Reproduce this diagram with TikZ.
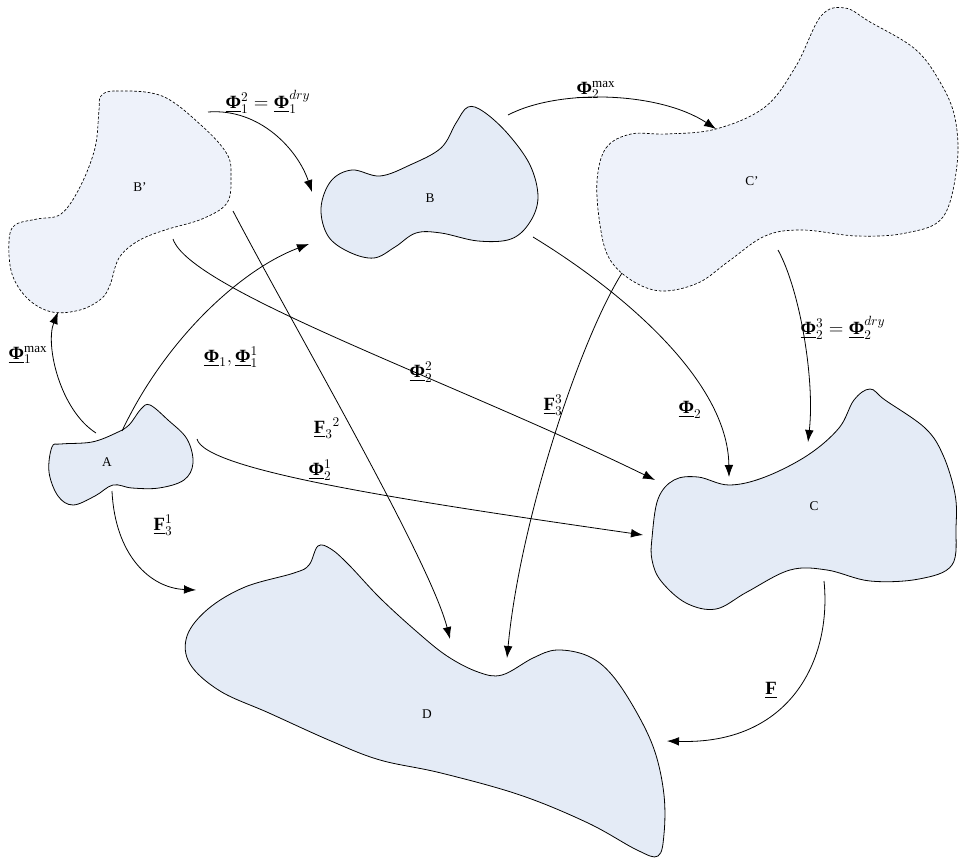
\documentclass[tikz,border=0pt]{standalone}
\usepackage{amsmath}
\usepackage{fontspec}
\setmainfont{Liberation Serif}
\usetikzlibrary{arrows.meta}

\definecolor{regionfill}{RGB}{228,235,246}
\definecolor{ghostfill}{RGB}{238,242,250}
\newcommand\bPhi{\underline{\text{\bfseries Φ}}}
\newcommand\bF{\underline{\text{\bfseries F}}}

\begin{document}
\begin{tikzpicture}[x=0.75pt,y=-0.75pt,
  region/.style={draw=black,line width=0.6pt,fill=regionfill},
  ghost/.style={draw=black,line width=0.5pt,fill=ghostfill,dash pattern=on 2pt off 1.4pt},
  regionname/.style={font=\fontsize{10}{12}\selectfont},
  flow/.style={draw=black,line width=0.6pt,-{Latex[length=9pt,width=6.5pt]}},
  lab/.style={font=\fontsize{14}{16}\selectfont,inner sep=1pt}]
\useasboundingbox (0,0) rectangle (959,859);

% --- regions -----------------------------------------------------------
% B' (dashed)
\draw[ghost] plot[smooth cycle,tension=0.6] coordinates {
 (101,96) (116,91) (162,96) (202,126) (227,154) (231,176) (227,203)
 (202,219) (165,230) (138,241) (119,258) (110,285) (101,299) (80,310)
 (52,312) (28,299) (12,274) (9,241) (15,225) (37,219) (61,214) (80,187)
 (95,148) (99,110)};
% C' (dashed)
\draw[ghost] plot[smooth cycle,tension=0.6] coordinates {
 (597,181) (606,148) (631,134) (667,134) (716,129) (765,107) (796,66)
 (821,16) (845,8) (870,22) (915,49) (940,82) (955,118) (957,165)
 (943,217) (906,233) (857,236) (802,230) (765,236) (729,261) (698,283)
 (661,291) (631,280) (609,258) (600,225)};
% A
\draw[region] plot[smooth cycle,tension=0.6] coordinates {
 (52,447) (49,472) (58,496) (73,505) (95,496) (113,485) (132,488)
 (159,488) (184,480) (193,463) (187,439) (168,420) (150,405) (141,409)
 (129,425) (116,433) (92,442) (61,444)};
% B
\draw[region] plot[smooth cycle,tension=0.6] coordinates {
 (321,208) (331,181) (352,170) (380,176) (410,165) (441,148) (456,123)
 (468,107) (484,112) (508,134) (530,165) (538,197) (530,222) (511,239)
 (478,241) (441,233) (416,233) (395,247) (374,258) (349,252) (328,236)};
% C
\draw[region] plot[smooth cycle,tension=0.6] coordinates {
 (652,538) (658,499) (674,480) (698,477) (729,485) (765,477) (808,455)
 (839,428) (854,400) (870,389) (885,400) (925,428) (943,455) (955,494)
 (956,527) (952,565) (919,579) (870,581) (827,570) (790,570) (747,592)
 (716,609) (686,603) (661,581) (652,560)};
% D
\draw[region] plot[smooth cycle,tension=0.6] coordinates {
 (318,546) (309,565) (294,573) (245,587) (208,609) (187,636) (190,664)
 (220,691) (269,713) (331,741) (380,760) (441,773) (520,795) (588,823)
 (637,850) (658,856) (664,834) (664,795) (655,752) (637,713) (612,675)
 (588,656) (557,650) (533,658) (502,675) (478,672) (447,656) (416,631)
 (380,598) (349,565) (331,549)};

% region names
\node[regionname] (nA)  at (107,462) {A};
\node[regionname] (nB)  at (430,198) {B};
\node[regionname] (nBp) at (140,187) {B’};
\node[regionname] (nC)  at (814,506) {C};
\node[regionname] (nCp) at (752,181) {C’};
\node[regionname] (nD)  at (427,714) {D};

% --- connector end points ---------------------------------------------
\coordinate (aTopL)  at (96,433);
\coordinate (aTop)   at (122,431);
\coordinate (aRight) at (197,439);
\coordinate (aBot)   at (112,491);
\coordinate (bpBot)  at (58,312);
\coordinate (bpR)    at (233,211);
\coordinate (bpLow)  at (173,239);
\coordinate (bpTop)  at (208,112);
\coordinate (bInL)   at (312,192);
\coordinate (bInLow) at (309,244);
\coordinate (bTopR)  at (508,115);
\coordinate (bRight) at (533,237);
\coordinate (cpIn)   at (716,129);
\coordinate (cpBotL) at (622,273);
\coordinate (cpBot)  at (778,250);
\coordinate (cInL)   at (655,480);
\coordinate (cInLow) at (643,535);
\coordinate (cInTop) at (729,477);
\coordinate (cInTR)  at (808,442);
\coordinate (cBot)   at (824,581);
\coordinate (dInL)   at (196,590);
\coordinate (dInA)   at (450,639);
\coordinate (dInB)   at (507,658);
\coordinate (dInR)   at (667,741);

% --- connectors ----------------------------------------------------------
\draw[flow] (aTopL)  .. controls (60,410)  and (45,345)  .. (bpBot);
\draw[flow] (aTop)   .. controls (165,340) and (240,270) .. (bInLow);
\draw[flow] (bpTop)  .. controls (260,108) and (298,150) .. (bInL);
\draw[flow] (bpR)    .. controls (290,320) and (430,560) .. (dInA);
\draw[flow] (bpLow)  .. controls (190,290) and (450,380) .. (cInL);
\draw[flow] (aRight) .. controls (205,470) and (400,500) .. (cInLow);
\draw[flow] (aBot)   .. controls (115,555) and (150,588) .. (dInL);
\draw[flow] (bTopR)  .. controls (560,88)  and (660,92)  .. (cpIn);
\draw[flow] (bRight) .. controls (620,290) and (728,380) .. (cInTop);
\draw[flow] (cpBotL) .. controls (580,340) and (520,520) .. (dInB);
\draw[flow] (cpBot)  .. controls (800,290) and (815,380) .. (cInTR);
\draw[flow] (cBot)   .. controls (832,660) and (790,745) .. (dInR);

% --- connector labels ----------------------------------------------------
\node[lab] (l1) at (268,102) {$\bPhi_1^2=\bPhi_1^{dry}$};
\node[lab] (l2) at (596,90)  {$\bPhi_2^{\mathrm{max}}$};
\node[lab] (l3) at (28,355)  {$\bPhi_1^{\mathrm{max}}$};
\node[lab] (l4) at (231,357) {$\bPhi_1,\bPhi_1^1$};
\node[lab] (l5) at (421,372) {$\bPhi_2^2$};
\node[lab] (l6) at (327,428) {$\bF_3{}^2$};
\node[lab] (l7) at (553,405) {$\bF_3^3$};
\node[lab] (l8) at (690,410) {$\bPhi_2$};
\node[lab] (l9) at (843,328) {$\bPhi_2^3=\bPhi_2^{dry}$};
\node[lab] (l10) at (320,470) {$\bPhi_2^1$};
\node[lab] (l11) at (163,525) {$\bF_3^1$};
\node[lab] (l12) at (771,690) {$\bF$};
\end{tikzpicture}
\end{document}
